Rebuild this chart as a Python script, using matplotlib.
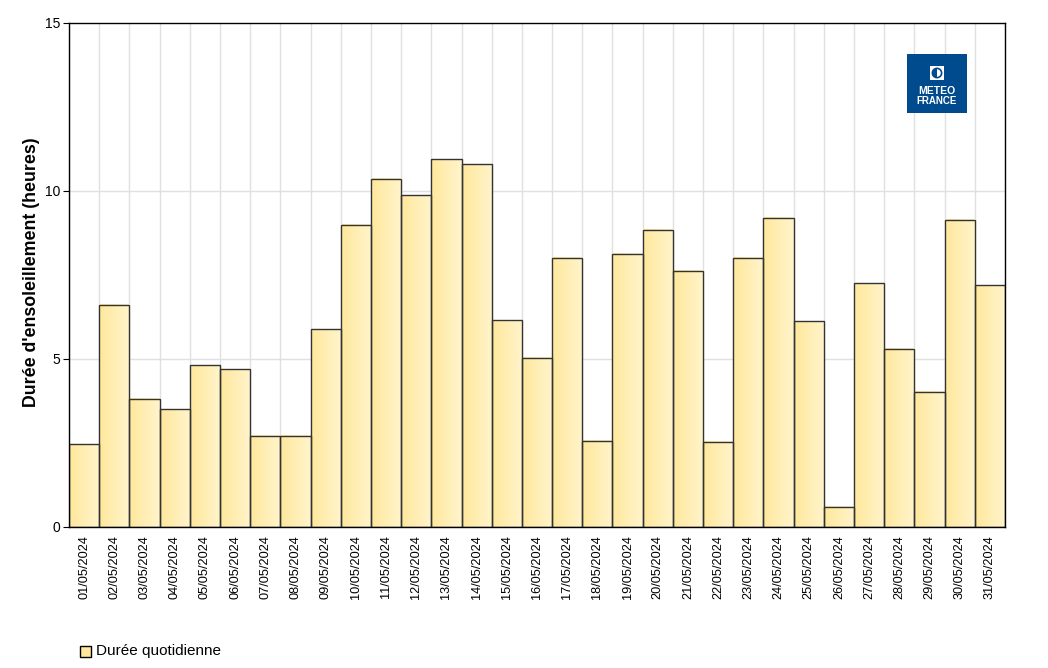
import numpy as np
import matplotlib
matplotlib.use("Agg")
import matplotlib.pyplot as plt
from matplotlib.colors import LinearSegmentedColormap
from matplotlib.patches import Rectangle, Wedge, Circle

plt.rcParams['font.family'] = ['Liberation Sans', 'DejaVu Sans']

# Données : durée quotidienne d'ensoleillement, mai 2024
jours = [f"{d:02d}/05/2024" for d in range(1, 32)]
duree = [2.47, 6.61, 3.81, 3.51, 4.82, 4.70, 2.71, 2.71, 5.89, 8.99,
         10.36, 9.88, 10.95, 10.80, 6.16, 5.03, 8.01, 2.56, 8.13, 8.84,
         7.62, 2.53, 8.01, 9.20, 6.13, 0.60, 7.26, 5.30, 4.02, 9.14, 7.20]

W, H = 1048, 668
fig = plt.figure(figsize=(W / 100, H / 100), dpi=100)
ax = fig.add_axes([69 / W, 1 - 527 / H, (1005 - 69) / W, (527 - 23) / H])

x = np.arange(len(duree))

# grille
for b in np.arange(-0.5, len(duree), 1.0):
    ax.axvline(b, color='#e0e0e0', lw=1, zorder=0)
for yv in [5, 10]:
    ax.axhline(yv, color='#e0e0e0', lw=1, zorder=0)

# barres avec dégradé horizontal
cmap = LinearSegmentedColormap.from_list('sun', ['#ffe89c', '#fff4cc'])
grad = np.linspace(0, 1, 64).reshape(1, -1)
for xi, v in zip(x, duree):
    ax.imshow(grad, cmap=cmap, aspect='auto', extent=(xi - 0.5, xi + 0.5, 0, v),
              zorder=1, interpolation='bilinear')
ax.bar(x, duree, width=1.0, fill=False, edgecolor='#333333', linewidth=1, zorder=2)
ax.set_xlim(-0.5, len(duree) - 0.5)
ax.set_ylim(0, 15)

ax.set_yticks([0, 5, 10, 15])
ax.tick_params(axis='y', length=4, labelsize=10, pad=2)
ax.set_xticks(x)
ax.set_xticklabels(jours, rotation=90, fontsize=9.2)
ax.tick_params(axis='x', length=0, pad=6)
for s in ax.spines.values():
    s.set_linewidth(1)
    s.set_color('black')

ax.set_ylabel("Durée d'ensoleillement (heures)", fontsize=12.8, fontweight='bold',
              labelpad=0)
ax.yaxis.set_label_coords(-29 / (1005 - 69), 0.505)

# logo Météo-France
fig.patches.append(Rectangle((907 / W, 1 - 113 / H), 60 / W, 59 / H,
                             transform=fig.transFigure, facecolor='#004b8d',
                             edgecolor='none', zorder=5))
logo_ax = fig.add_axes([930 / W, 1 - 80 / H, 14 / W, 14 / H], zorder=10)
logo_ax.set_xlim(0, 1)
logo_ax.set_ylim(0, 1)
logo_ax.axis('off')
logo_ax.add_patch(Rectangle((0, 0), 1, 1, facecolor='white', edgecolor='none'))
logo_ax.add_patch(Circle((0.5, 0.5), 0.33, facecolor='white', edgecolor='#004b8d', lw=1.2))
logo_ax.add_patch(Wedge((0.5, 0.5), 0.33, 90, 270, facecolor='#004b8d', edgecolor='none'))
fig.text(937 / W, 1 - 91 / H, "METEO", color='white', fontsize=7.5,
         fontweight='bold', ha='center', va='center', zorder=7)
fig.text(937 / W, 1 - 101 / H, "FRANCE", color='white', fontsize=7,
         fontweight='bold', ha='center', va='center', zorder=7)

# légende
fig.patches.append(Rectangle((80 / W, 1 - 657 / H), 11 / W, 11 / H,
                             transform=fig.transFigure, facecolor='#ffe89c',
                             edgecolor='black', linewidth=1))
fig.text(96 / W, 1 - 651 / H, "Durée quotidienne", fontsize=11, va='center')

fig.savefig("out.png", dpi=100)
